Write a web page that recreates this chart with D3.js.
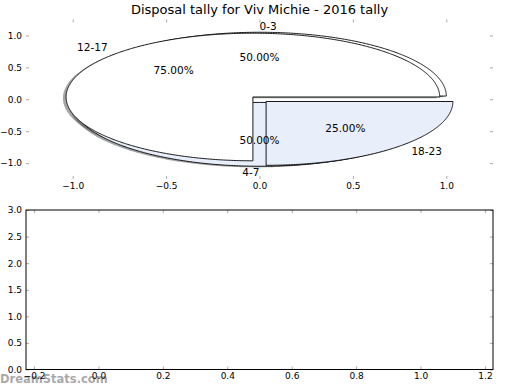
<!DOCTYPE html>
<html>
<head>
<meta charset="utf-8">
<script src="https://cdn.jsdelivr.net/npm/d3@7"></script>
<style>
  body { margin: 0; background: #fff; }
  svg { display: block; font-family: "DejaVu Sans", sans-serif; }
  .tick line { stroke: #aaa; }
  .tick text { fill: #000; font-size: 9px; }
</style>
</head>
<body>
<div id="chart"></div>
<script>
const title = 'Disposal tally for Viv Michie - 2016 tally';
const labels = ['0-3', '4-7', '12-17', '18-23'];
const values = [0.5, 0.5, 0.75, 0.25];
const pctLabels = ['50.00%', '50.00%', '75.00%', '25.00%'];
const colors = ['#ffffff', '#e8effb', '#ffffff', '#e8effb'];
const explode = [0.05, 0.05, 0.05, 0.05];
const pieTicks = [-1.0, -0.5, 0.0, 0.5, 1.0];
const barXTicks = [-0.2, 0.0, 0.2, 0.4, 0.6, 0.8, 1.0, 1.2];
const barYTicks = [0.0, 0.5, 1.0, 1.5, 2.0, 2.5, 3.0];

const width = 520, height = 390;
const svg = d3.select('#chart').append('svg')
  .attr('width', width)
  .attr('height', height);

// watermark sits under the tick labels
svg.append('text')
  .attr('x', 0)
  .attr('y', 383)
  .style('font-size', '11.5px')
  .style('font-weight', 'bold')
  .attr('fill', '#999')
  .attr('fill-opacity', 0.85)
  .text('DreamStats.com');

// top panel: pie drawn in data space, aspect not equal
const pieBox = {left: 26, right: 493, top: 19.5, bottom: 179};
const x = d3.scaleLinear().domain([-1.25, 1.25]).range([pieBox.left, pieBox.right]);
const y = d3.scaleLinear().domain([-1.25, 1.25]).range([pieBox.bottom, pieBox.top]);

svg.append('text')
  .attr('x', (pieBox.left + pieBox.right) / 2)
  .attr('y', 14)
  .attr('text-anchor', 'middle')
  .style('font-size', '13px')
  .text(title);

function addTicks(g, xs, ys, xTicks, yTicks, b) {
  g.append('g')
    .attr('transform', 'translate(0,' + b.bottom + ')')
    .call(d3.axisBottom(xs).tickValues(xTicks).tickFormat(d3.format('.1f')).tickSize(-3).tickPadding(3.5))
    .call(a => a.select('.domain').remove());
  g.append('g')
    .attr('transform', 'translate(0,' + b.top + ')')
    .call(d3.axisTop(xs).tickValues(xTicks).tickFormat('').tickSize(-3))
    .call(a => a.select('.domain').remove());
  g.append('g')
    .attr('transform', 'translate(' + b.left + ',0)')
    .call(d3.axisLeft(ys).tickValues(yTicks).tickFormat(d3.format('.1f')).tickSize(-3).tickPadding(4))
    .call(a => a.select('.domain').remove());
  g.append('g')
    .attr('transform', 'translate(' + b.right + ',0)')
    .call(d3.axisRight(ys).tickValues(yTicks).tickFormat('').tickSize(-3))
    .call(a => a.select('.domain').remove());
  g.selectAll('.tick text').style('font-family', '"DejaVu Sans", sans-serif').style('font-size', '9px');
}

const pieG = svg.append('g');
addTicks(pieG, x, y, pieTicks, pieTicks, pieBox);

// wedge geometry, like matplotlib pie without normalising
let cum = 0;
const wedges = values.map((v, i) => {
  const t1 = cum, t2 = cum + v;
  cum = t2;
  const mid = Math.PI * (t1 + t2);
  return {
    label: labels[i], pct: pctLabels[i], color: colors[i],
    t1: t1 * 2 * Math.PI, t2: t2 * 2 * Math.PI, mid,
    cx: explode[i] * Math.cos(mid), cy: explode[i] * Math.sin(mid)
  };
});

function wedgePoints(w, dx, dy) {
  const n = Math.max(2, Math.ceil((w.t2 - w.t1) / (Math.PI / 360)));
  const pts = [[w.cx + dx, w.cy + dy]];
  for (let k = 0; k <= n; k++) {
    const a = w.t1 + (w.t2 - w.t1) * k / n;
    pts.push([w.cx + dx + Math.cos(a), w.cy + dy + Math.sin(a)]);
  }
  return pts;
}

const line = d3.line().x(d => x(d[0])).y(d => y(d[1])).curve(d3.curveLinearClosed);

// shadows go under every wedge
pieG.selectAll('.shadow')
  .data(wedges)
  .enter()
  .append('path')
  .attr('class', 'shadow')
  .attr('d', w => line(wedgePoints(w, -0.017, -0.018)))
  .attr('fill', w => {
    const c = d3.rgb(w.color);
    return d3.rgb(c.r * 0.3, c.g * 0.3, c.b * 0.3);
  })
  .attr('fill-opacity', 0.5);

pieG.selectAll('.wedge')
  .data(wedges)
  .enter()
  .append('path')
  .attr('class', 'wedge')
  .attr('d', w => line(wedgePoints(w, 0, 0)))
  .attr('fill', w => w.color)
  .attr('stroke', '#000')
  .attr('stroke-width', 0.9);

pieG.selectAll('.label')
  .data(wedges)
  .enter()
  .append('text')
  .attr('class', 'label')
  .attr('x', w => x(w.cx + 1.1 * Math.cos(w.mid)))
  .attr('y', w => y(w.cy + 1.1 * Math.sin(w.mid)))
  .attr('text-anchor', w => (w.cx + 1.1 * Math.cos(w.mid)) > 0 ? 'start' : 'end')
  .attr('dy', '0.35em')
  .style('font-size', '10.5px')
  .text(w => w.label);

pieG.selectAll('.pct')
  .data(wedges)
  .enter()
  .append('text')
  .attr('class', 'pct')
  .attr('x', w => x(w.cx + 0.6 * Math.cos(w.mid)))
  .attr('y', w => y(w.cy + 0.6 * Math.sin(w.mid)))
  .attr('text-anchor', 'middle')
  .attr('dy', '0.35em')
  .style('font-size', '10.5px')
  .text(w => w.pct);

// bottom panel: empty axes
const botBox = {left: 26, right: 493, top: 210, bottom: 369.5};
const bx = d3.scaleLinear().domain([-0.225, 1.225]).range([botBox.left, botBox.right]);
const by = d3.scaleLinear().domain([0, 3]).range([botBox.bottom, botBox.top]);

const botG = svg.append('g');
addTicks(botG, bx, by, barXTicks, barYTicks, botBox);
botG.append('rect')
  .attr('x', botBox.left)
  .attr('y', botBox.top)
  .attr('width', botBox.right - botBox.left)
  .attr('height', botBox.bottom - botBox.top)
  .attr('fill', 'none')
  .attr('stroke', '#000')
  .attr('stroke-width', 1);
</script>
</body>
</html>
